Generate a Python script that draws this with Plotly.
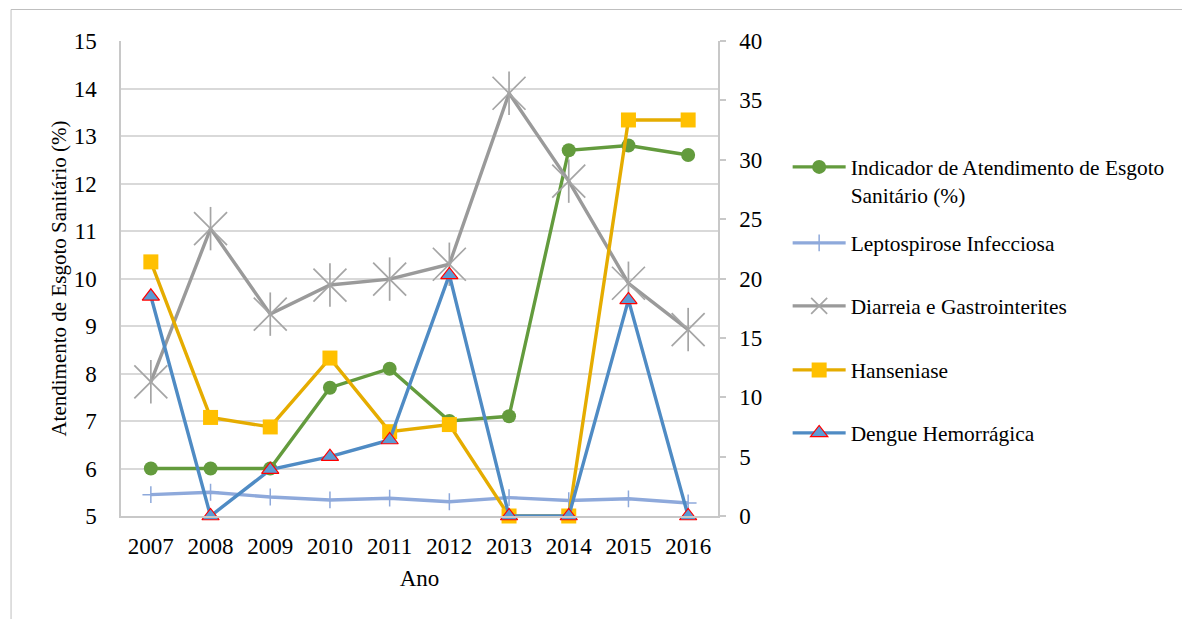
import plotly.graph_objects as go

anos = ["2007", "2008", "2009", "2010", "2011", "2012", "2013", "2014", "2015", "2016"]
esgoto = [6.0, 6.0, 6.0, 7.7, 8.1, 7.0, 7.1, 12.7, 12.8, 12.6]
leptospirose = [1.8, 2.0, 1.6, 1.35, 1.5, 1.2, 1.55, 1.3, 1.45, 1.1]
diarreia = [11.3, 24.2, 17.0, 19.45, 19.95, 21.2, 35.6, 28.2, 19.6, 15.7]
hanseniase = [21.4, 8.3, 7.5, 13.3, 7.1, 7.7, 0.0, 0.0, 33.35, 33.35]
dengue = [18.5, 0.0, 3.9, 5.0, 6.4, 20.3, 0.0, 0.0, 18.2, 0.0]

nomes = ["Indicador de Atendimento de Esgoto<br>Sanitário (%)", "Leptospirose Infecciosa",
         "Diarreia e Gastrointerites", "Hanseniase", "Dengue Hemorrágica"]

FONT = "Liberation Serif, Times New Roman, serif"

fig = go.Figure()

fig.add_trace(go.Scatter(x=anos, y=esgoto, name=nomes[0], mode="lines+markers",
                         line=dict(color="#639B3D", width=3.4), cliponaxis=False,
                         marker=dict(symbol="circle", size=14, color="#639B3D"),
                         legend="legend", yaxis="y"))
fig.add_trace(go.Scatter(x=anos, y=leptospirose, name=nomes[1], mode="lines+markers",
                         line=dict(color="#8EA9DB", width=3.4), cliponaxis=False,
                         marker=dict(symbol="cross-thin-open", size=12, color="#8EA9DB",
                                     line=dict(color="#8EA9DB", width=1.5)),
                         legend="legend2", yaxis="y2"))
fig.add_trace(go.Scatter(x=anos, y=diarreia, name=nomes[2], mode="lines+markers",
                         line=dict(color="#9A9A9A", width=3.4), cliponaxis=False,
                         marker=dict(symbol="x-thin-open", size=33, color="#A5A5A5",
                                     line=dict(color="#A5A5A5", width=1.7)),
                         legend="legend3", yaxis="y2", legendgroup="d"))
fig.add_trace(go.Scatter(x=anos, y=diarreia, mode="markers", showlegend=False, cliponaxis=False,
                         marker=dict(symbol="line-ns-open", size=31, color="#A5A5A5",
                                     line=dict(color="#A5A5A5", width=1.7)),
                         yaxis="y2", legendgroup="d", hoverinfo="skip"))
fig.add_trace(go.Scatter(x=anos, y=hanseniase, name=nomes[3], mode="lines+markers",
                         line=dict(color="#E5AC00", width=3.4), cliponaxis=False,
                         marker=dict(symbol="square", size=15, color="#FFC000"),
                         legend="legend4", yaxis="y2"))
fig.add_trace(go.Scatter(x=anos, y=dengue, name=nomes[4], mode="lines+markers",
                         line=dict(color="#4F8BC4", width=3.4), cliponaxis=False,
                         marker=dict(symbol="triangle-up", size=15, color="#5B9BD5",
                                     line=dict(color="#FF0000", width=1.2)),
                         legend="legend5", yaxis="y2"))

L, R, T, B = 121, 461, 41, 103
W, H = 1182, 619
pw, ph = W - L - R, H - T - B


def px2x(px):
    return (px - L) / pw


def py2y(py):
    return (H - B - py) / ph


leg_common = dict(font=dict(family=FONT, size=21.4, color="#000000"), bgcolor="rgba(0,0,0,0)",
                  itemwidth=53, x=px2x(791), xanchor="left", yanchor="middle",
                  borderwidth=0, tracegroupgap=0)

fig.update_layout(
    width=W, height=H,
    margin=dict(l=L, r=R, t=T, b=B, pad=0),
    paper_bgcolor="white", plot_bgcolor="white",
    font=dict(family=FONT, size=23, color="#000000"),
    xaxis=dict(type="category", range=[-0.5, 9.5], showline=True, linecolor="#C8C8C8", linewidth=1.5,
               ticks="", showgrid=False, tickfont=dict(size=23), ticklabelstandoff=9,
               title=dict(text="Ano", font=dict(size=23), standoff=12)),
    yaxis=dict(range=[5, 15], dtick=1, showline=True, linecolor="#C8C8C8", linewidth=1.5,
               gridcolor="#D9D9D9", gridwidth=1.5, ticks="", tickfont=dict(size=23),
               ticklabelstandoff=18, zeroline=False,
               title=dict(text="Atendimento de Esgoto Sanitário (%)", font=dict(size=21), standoff=1)),
    yaxis2=dict(range=[0, 40], dtick=5, overlaying="y", side="right", showgrid=False,
                showline=True, linecolor="#C8C8C8", linewidth=1.5, ticks="outside",
                ticklen=6, tickcolor="#C8C8C8", tickwidth=1.5, tickfont=dict(size=23),
                ticklabelstandoff=9, zeroline=False),
    legend=dict(**leg_common, y=py2y(181), valign="top"),
    legend2=dict(**leg_common, y=py2y(243)),
    legend3=dict(**leg_common, y=py2y(306)),
    legend4=dict(**leg_common, y=py2y(370)),
    legend5=dict(**leg_common, y=py2y(433)),
    showlegend=True,
    shapes=[dict(type="rect", xref="paper", yref="paper",
                 x0=px2x(10.5), x1=px2x(1200), y0=py2y(640), y1=py2y(9.5),
                 line=dict(color="#BFBFBF", width=1), fillcolor="rgba(0,0,0,0)", layer="below")],
)

fig.write_html("out.html")
